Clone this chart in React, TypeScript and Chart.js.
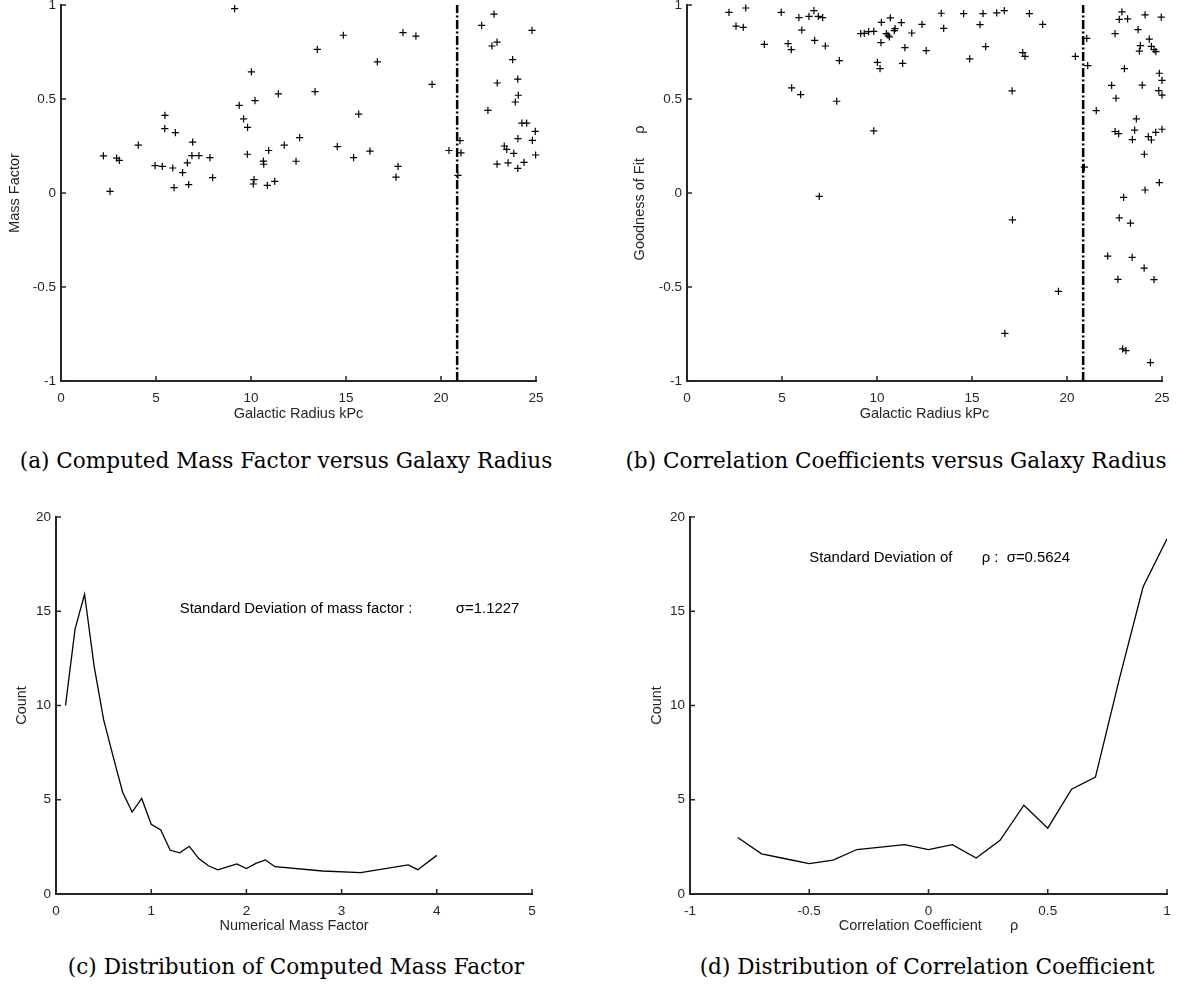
import React, { useEffect, useRef } from 'react';
import Chart from 'chart.js/auto';

// ---------------- data ----------------
// (a) Computed mass factor versus galactic radius
const radiusA = [2.23, 2.58, 2.93, 3.07, 4.07, 4.95, 5.33, 5.47, 5.46, 5.88, 6.02, 5.95, 6.4, 6.65, 6.72, 6.93, 6.89, 7.26, 7.84, 7.98, 9.14, 9.38, 9.61, 9.82, 9.81, 10.02, 10.21, 10.16, 10.12, 10.65, 10.67, 10.93, 10.86, 11.25, 11.44, 11.75, 12.37, 12.56, 13.49, 13.37, 14.86, 14.54, 15.67, 15.4, 16.26, 16.65, 18.0, 18.68, 17.74, 17.63, 19.53, 20.42, 21.0, 21.05, 20.89, 22.14, 22.79, 24.79, 22.68, 22.95, 23.77, 22.96, 24.04, 24.07, 23.91, 22.47, 24.26, 24.51, 24.96, 24.05, 24.81, 23.33, 23.46, 23.83, 24.98, 22.95, 23.53, 24.37, 24.04];
const massA = [0.197, 0.009, 0.185, 0.174, 0.255, 0.146, 0.142, 0.413, 0.342, 0.133, 0.321, 0.029, 0.108, 0.16, 0.045, 0.271, 0.199, 0.199, 0.188, 0.082, 0.981, 0.466, 0.394, 0.349, 0.206, 0.644, 0.491, 0.071, 0.048, 0.17, 0.153, 0.226, 0.041, 0.062, 0.527, 0.255, 0.169, 0.295, 0.764, 0.539, 0.839, 0.247, 0.42, 0.188, 0.223, 0.697, 0.853, 0.834, 0.142, 0.084, 0.578, 0.226, 0.279, 0.213, 0.094, 0.892, 0.951, 0.865, 0.782, 0.803, 0.709, 0.585, 0.606, 0.52, 0.484, 0.44, 0.372, 0.372, 0.328, 0.289, 0.28, 0.25, 0.232, 0.211, 0.202, 0.154, 0.16, 0.163, 0.131];

// (b) Correlation coefficients versus galactic radius
const radiusB = [2.21, 3.09, 2.58, 2.96, 4.07, 4.96, 5.32, 5.49, 5.51, 5.89, 6.04, 5.98, 6.42, 6.68, 6.91, 7.14, 6.72, 7.28, 6.96, 7.88, 8.02, 9.14, 9.33, 9.56, 9.83, 9.83, 10.02, 10.16, 10.23, 10.21, 10.49, 10.58, 10.65, 10.7, 10.95, 10.91, 11.28, 11.83, 11.47, 11.35, 12.37, 12.59, 13.38, 13.51, 14.56, 14.88, 15.58, 15.42, 15.72, 16.3, 16.7, 17.11, 17.67, 17.79, 18.02, 18.72, 20.44, 21.04, 21.09, 20.91, 21.54, 22.53, 22.35, 22.58, 22.89, 22.75, 23.19, 24.11, 24.96, 23.74, 24.33, 23.86, 23.81, 24.44, 24.58, 24.68, 23.02, 24.86, 25.0, 23.96, 24.83, 25.0, 23.65, 23.56, 22.53, 22.72, 23.44, 24.28, 24.44, 24.67, 25.0, 24.07, 24.86, 24.11, 22.98, 17.13, 16.73, 19.55, 22.75, 23.34, 22.14, 23.43, 24.06, 22.68, 24.58, 22.93, 23.1, 24.39];
const rhoB = [0.961, 0.984, 0.888, 0.881, 0.791, 0.961, 0.795, 0.763, 0.559, 0.933, 0.866, 0.523, 0.94, 0.97, 0.94, 0.933, 0.812, 0.782, -0.018, 0.488, 0.704, 0.848, 0.849, 0.858, 0.86, 0.33, 0.695, 0.662, 0.908, 0.8, 0.848, 0.839, 0.83, 0.931, 0.874, 0.864, 0.906, 0.851, 0.773, 0.69, 0.897, 0.757, 0.956, 0.876, 0.954, 0.713, 0.954, 0.896, 0.779, 0.958, 0.97, 0.543, 0.747, 0.727, 0.954, 0.897, 0.727, 0.823, 0.678, 0.138, 0.438, 0.848, 0.573, 0.504, 0.963, 0.924, 0.926, 0.947, 0.935, 0.869, 0.819, 0.784, 0.755, 0.78, 0.763, 0.752, 0.662, 0.637, 0.599, 0.574, 0.545, 0.521, 0.394, 0.334, 0.327, 0.316, 0.284, 0.3, 0.282, 0.323, 0.339, 0.206, 0.055, 0.016, -0.023, -0.143, -0.747, -0.523, -0.132, -0.16, -0.336, -0.342, -0.4, -0.459, -0.461, -0.829, -0.838, -0.902];

const cutoffRadius = 20.85;

// (c) Distribution of computed mass factor
const massBins = [0.1, 0.2, 0.3, 0.4, 0.5, 0.6, 0.7, 0.8, 0.9, 1.0, 1.1, 1.2, 1.3, 1.4, 1.5, 1.6, 1.7, 1.8, 1.9, 2.0, 2.1, 2.2, 2.3, 2.8, 3.2, 3.7, 3.8, 4.0];
const massCounts = [10, 14.05, 15.9, 12.1, 9.25, 7.3, 5.4, 4.35, 5.07, 3.7, 3.4, 2.32, 2.18, 2.53, 1.88, 1.5, 1.28, 1.44, 1.6, 1.35, 1.62, 1.81, 1.45, 1.22, 1.13, 1.54, 1.29, 2.05];

// (d) Distribution of correlation coefficient
const rhoBins = [-0.8, -0.7, -0.6, -0.5, -0.4, -0.3, -0.2, -0.1, 0, 0.1, 0.2, 0.3, 0.4, 0.5, 0.6, 0.7, 0.8, 0.9, 1.0];
const rhoCounts = [3.0, 2.13, 1.87, 1.61, 1.8, 2.36, 2.49, 2.62, 2.36, 2.62, 1.91, 2.85, 4.71, 3.49, 5.56, 6.2, 11.4, 16.3, 18.85];

// tick values
const radiusTicks = [0, 5, 10, 15, 20, 25];
const unitTicks = [-1, -0.5, 0, 0.5, 1];
const massTicks = [0, 1, 2, 3, 4, 5];
const rhoTicks = [-1, -0.5, 0, 0.5, 1];
const countTicks = [0, 5, 10, 15, 20];

// annotations
const massNoteLabel = 'Standard Deviation of mass factor :';
const massNoteValue = 'σ=1.1227';
const rhoNoteLabel = 'Standard Deviation of';
const rhoNoteValue = 'ρ :  σ=0.5624';

// ---------------- styles ----------------
const AXIS = '#262626';
const SANS = '"Liberation Sans", Arial, Helvetica, sans-serif';
const TICK_SIZE = 13.5;
const TITLE_SIZE = 14.5;
const NOTE_SIZE = 14.9;

const inwardTicks = {
  id: 'inwardTicks',
  afterDatasetsDraw(chart: any) {
    const { ctx, chartArea, scales } = chart;
    const xs = scales.x;
    const ys = scales.y;
    ctx.save();
    ctx.strokeStyle = AXIS;
    ctx.lineWidth = 1.5;
    xs.ticks.forEach((t: any) => {
      const px = xs.getPixelForValue(t.value);
      ctx.beginPath();
      ctx.moveTo(px, chartArea.bottom);
      ctx.lineTo(px, chartArea.bottom - 5);
      ctx.stroke();
    });
    ys.ticks.forEach((t: any) => {
      const py = ys.getPixelForValue(t.value);
      ctx.beginPath();
      ctx.moveTo(chartArea.left, py);
      ctx.lineTo(chartArea.left + 5, py);
      ctx.stroke();
    });
    ctx.restore();
  },
};

type Note = { x: number; y: number; text: string };

function notesPlugin(notes: Note[]) {
  return {
    id: 'notes',
    afterDatasetsDraw(chart: any) {
      const { ctx, scales } = chart;
      ctx.save();
      ctx.fillStyle = '#000';
      ctx.font = `${NOTE_SIZE}px ${SANS}`;
      ctx.textAlign = 'left';
      ctx.textBaseline = 'middle';
      notes.forEach((n) => {
        ctx.fillText(n.text, scales.x.getPixelForValue(n.x), scales.y.getPixelForValue(n.y));
      });
      ctx.restore();
    },
  };
}

type PanelCfg = {
  left: number;
  top: number;
  width: number;
  height: number;
  padTop: number;
  padRight: number;
  yWidth: number;
  xHeight: number;
  xMin: number;
  xMax: number;
  yMin: number;
  yMax: number;
  xTicks: number[];
  yTicks: number[];
  xTitle: string;
  yTitle: string;
  xTitlePad: number;
  yTitlePad: number;
  datasets: any[];
  notes: Note[];
};

const plainLabel = (v: any) => String(Math.round(Number(v) * 1000) / 1000);

function buildConfig(p: PanelCfg): any {
  const tickFont = { family: SANS, size: TICK_SIZE };
  const titleFont = { family: SANS, size: TITLE_SIZE, lineHeight: 1.2 };
  return {
    type: 'scatter',
    data: { datasets: p.datasets },
    options: {
      animation: false,
      responsive: false,
      maintainAspectRatio: false,
      events: [],
      layout: { padding: { top: p.padTop, right: p.padRight, left: 0, bottom: 0 } },
      plugins: { legend: { display: false }, tooltip: { enabled: false } },
      scales: {
        x: {
          type: 'linear',
          min: p.xMin,
          max: p.xMax,
          afterBuildTicks: (s: any) => {
            s.ticks = p.xTicks.map((v) => ({ value: v }));
          },
          afterFit: (s: any) => {
            s.height = p.xHeight;
          },
          grid: { display: false, drawTicks: false },
          border: { display: true, color: AXIS, width: 2 },
          ticks: { color: AXIS, font: tickFont, padding: 9, maxRotation: 0, autoSkip: false, callback: plainLabel },
          title: {
            display: true,
            text: p.xTitle,
            color: AXIS,
            font: titleFont,
            padding: { top: 0, bottom: p.xTitlePad },
          },
        },
        y: {
          type: 'linear',
          min: p.yMin,
          max: p.yMax,
          afterBuildTicks: (s: any) => {
            s.ticks = p.yTicks.map((v) => ({ value: v }));
          },
          afterFit: (s: any) => {
            s.width = p.yWidth;
          },
          grid: { display: false, drawTicks: false },
          border: { display: true, color: AXIS, width: 2 },
          ticks: { color: AXIS, font: tickFont, padding: 5, autoSkip: false, callback: plainLabel },
          title: {
            display: true,
            text: p.yTitle,
            color: AXIS,
            font: titleFont,
            padding: { top: p.yTitlePad, bottom: 0 },
          },
        },
      },
    },
    plugins: [inwardTicks, notesPlugin(p.notes)],
  };
}

function toPoints(xs: number[], ys: number[]) {
  return xs.map((x, i) => ({ x, y: ys[i] }));
}

const crossSet = (xs: number[], ys: number[]) => ({
  data: toPoints(xs, ys),
  pointStyle: 'cross',
  pointRadius: 3.6,
  pointBorderWidth: 1.2,
  pointBorderColor: '#000',
  pointBackgroundColor: '#000',
  showLine: false,
  clip: false,
});

const cutoffSet = () => ({
  type: 'line',
  data: [
    { x: cutoffRadius, y: -1 },
    { x: cutoffRadius, y: 1 },
  ],
  borderColor: '#000',
  borderWidth: 2.5,
  borderDash: [9, 2.5, 2, 2.5],
  pointRadius: 0,
  showLine: true,
  fill: false,
});

const curveSet = (xs: number[], ys: number[]) => ({
  type: 'line',
  data: toPoints(xs, ys),
  borderColor: '#000',
  borderWidth: 1.3,
  pointRadius: 0,
  showLine: true,
  fill: false,
  tension: 0,
});

const panels: PanelCfg[] = [
  {
    left: 0, top: -15, width: 560, height: 445, padTop: 20, padRight: 24, yWidth: 61, xHeight: 49,
    xMin: 0, xMax: 25, yMin: -1, yMax: 1, xTicks: radiusTicks, yTicks: unitTicks,
    xTitle: 'Galactic Radius kPc', yTitle: 'Mass Factor', xTitlePad: 7, yTitlePad: 6,
    datasets: [crossSet(radiusA, massA), cutoffSet()], notes: [],
  },
  {
    left: 626, top: -15, width: 559, height: 445, padTop: 20, padRight: 23, yWidth: 61, xHeight: 49,
    xMin: 0, xMax: 25, yMin: -1, yMax: 1, xTicks: radiusTicks, yTicks: unitTicks,
    xTitle: 'Galactic Radius kPc', yTitle: 'Goodness of Fit      ρ', xTitlePad: 7, yTitlePad: 5,
    datasets: [crossSet(radiusB, rhoB), cutoffSet()], notes: [],
  },
  {
    left: 0, top: 497, width: 560, height: 448, padTop: 20, padRight: 28, yWidth: 56, xHeight: 51,
    xMin: 0, xMax: 5, yMin: 0, yMax: 20, xTicks: massTicks, yTicks: countTicks,
    xTitle: 'Numerical Mass Factor', yTitle: 'Count', xTitlePad: 10, yTitlePad: 13,
    datasets: [curveSet(massBins, massCounts)],
    notes: [
      { x: 1.3, y: 15.1, text: massNoteLabel },
      { x: 4.2, y: 15.1, text: massNoteValue },
    ],
  },
  {
    left: 634, top: 497, width: 551, height: 448, padTop: 20, padRight: 18, yWidth: 56, xHeight: 51,
    xMin: -1, xMax: 1, yMin: 0, yMax: 20, xTicks: rhoTicks, yTicks: countTicks,
    xTitle: 'Correlation Coefficient       ρ', yTitle: 'Count', xTitlePad: 10, yTitlePad: 14,
    datasets: [curveSet(rhoBins, rhoCounts)],
    notes: [
      { x: -0.5, y: 17.85, text: rhoNoteLabel },
      { x: 0.223, y: 17.85, text: rhoNoteValue },
    ],
  },
];

const captions = [
  { text: '(a) Computed Mass Factor versus Galaxy Radius', cx: 286, cy: 461 },
  { text: '(b) Correlation Coefficients versus Galaxy Radius', cx: 896, cy: 461 },
  { text: '(c) Distribution of Computed Mass Factor', cx: 296, cy: 967 },
  { text: '(d) Distribution of Correlation Coefficient', cx: 927, cy: 967 },
];

function Panel({ cfg }: { cfg: PanelCfg }) {
  const ref = useRef<HTMLCanvasElement | null>(null);
  useEffect(() => {
    if (!ref.current) return;
    const chart = new Chart(ref.current, buildConfig(cfg));
    return () => chart.destroy();
  }, [cfg]);
  return (
    <canvas
      ref={ref}
      width={cfg.width}
      height={cfg.height}
      style={{ position: 'absolute', left: cfg.left, top: cfg.top, width: cfg.width, height: cfg.height }}
    />
  );
}

export default function App() {
  return (
    <div
      style={{
        position: 'absolute',
        left: 0,
        top: 0,
        width: 1185,
        height: 989,
        overflow: 'hidden',
        background: '#fff',
      }}
    >
      {panels.map((p, i) => (
        <Panel key={i} cfg={p} />
      ))}
      {captions.map((c, i) => (
        <div
          key={i}
          style={{
            position: 'absolute',
            left: c.cx - 300,
            width: 600,
            top: c.cy - 13,
            height: 26,
            lineHeight: '26px',
            textAlign: 'center',
            fontFamily: '"DejaVu Serif", "Liberation Serif", serif',
            fontSize: 21.6,
            color: '#000',
            whiteSpace: 'nowrap',
          }}
        >
          {c.text}
        </div>
      ))}
    </div>
  );
}
